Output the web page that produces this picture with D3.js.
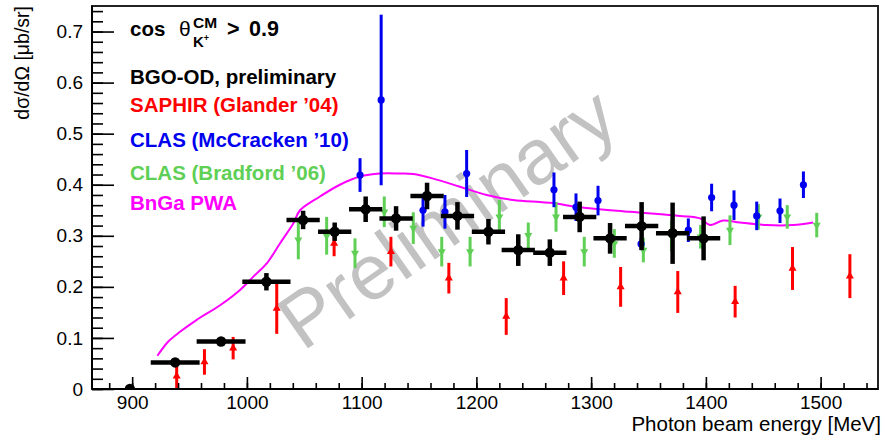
<!DOCTYPE html>
<html><head><meta charset="utf-8">
<script src="https://cdn.jsdelivr.net/npm/d3@7"></script>
<style>
html,body{margin:0;padding:0;background:#fff;}
svg{display:block;font-family:"Liberation Sans",Arial,Helvetica,sans-serif;}
</style></head>
<body>
<svg id="c" width="885" height="440"></svg>
<script>
// ---------- data ----------
const xTicks = [900, 1000, 1100, 1200, 1300, 1400, 1500];
const yTicks = [0, 0.1, 0.2, 0.3, 0.4, 0.5, 0.6, 0.7];
const yTickLabels = ["0", "0.1", "0.2", "0.3", "0.4", "0.5", "0.6", "0.7"];

// BGO-OD preliminary
const bgoE   = [898, 937.5, 977.5, 1017, 1049, 1076.5, 1103.5, 1130, 1157, 1183.5, 1210.5, 1236.5, 1264, 1290, 1316.5, 1344, 1371, 1398];
const bgoV   = [0, 0.052, 0.093, 0.210, 0.331, 0.308, 0.352, 0.334, 0.378, 0.339, 0.308, 0.272, 0.267, 0.337, 0.295, 0.319, 0.305, 0.295];
const bgoErr = [0, 0.005, 0.005, 0.017, 0.018, 0.018, 0.025, 0.024, 0.026, 0.027, 0.025, 0.031, 0.026, 0.030, 0.030, 0.047, 0.060, 0.043];
const bgoXErr= [0, 21.3, 21.3, 21, 14.5, 14.5, 14.5, 14.5, 14.5, 14.5, 14.5, 14.5, 14.5, 14.5, 14.5, 14.5, 14.5, 14.5];

// SAPHIR (Glander '04)
const sapE   = [938.8, 963, 988, 1026, 1076, 1125.5, 1176, 1226, 1276, 1325.7, 1375.5, 1425.5, 1475.5, 1525.5];
const sapV   = [0.025, 0.053, 0.080, 0.158, 0.285, 0.269, 0.217, 0.142, 0.217, 0.200, 0.190, 0.171, 0.236, 0.221];
const sapErr = [0.030, 0.025, 0.022, 0.050, 0.025, 0.029, 0.030, 0.036, 0.033, 0.039, 0.041, 0.031, 0.042, 0.043];

// CLAS (McCracken '10)
const mcE    = [1098.6, 1117, 1153.5, 1172.6, 1191.5, 1267.6, 1286.8, 1306, 1343.5, 1384.7, 1405, 1424.5, 1444.3, 1464.6, 1485];
const mcV    = [0.419, 0.566, 0.350, 0.347, 0.422, 0.390, 0.356, 0.369, 0.284, 0.311, 0.375, 0.360, 0.339, 0.349, 0.400];
const mcErr  = [0.033, 0.167, 0.032, 0.033, 0.046, 0.034, 0.027, 0.029, 0.012, 0.023, 0.027, 0.029, 0.028, 0.024, 0.026];

// CLAS (Bradford '06)
const brE    = [1044.8, 1069.5, 1094.2, 1119.7, 1145, 1169.8, 1194.5, 1220, 1245.2, 1269.4, 1294, 1320.2, 1345.5, 1370, 1395.4, 1421, 1445.7, 1470.9, 1496.6];
const brV    = [0.292, 0.300, 0.266, 0.347, 0.315, 0.269, 0.269, 0.337, 0.301, 0.337, 0.269, 0.285, 0.272, 0.300, 0.298, 0.311, 0.337, 0.337, 0.321];
const brErr  = [0.038, 0.037, 0.029, 0.030, 0.031, 0.029, 0.029, 0.033, 0.025, 0.029, 0.029, 0.028, 0.024, 0.030, 0.023, 0.029, 0.025, 0.023, 0.024];

// BnGa PWA curve
const pwaE = [922, 931.5, 941.7, 956, 976.6, 994, 1005.6, 1017.3, 1028.8, 1040.4, 1046.3, 1063.7, 1081, 1098.6, 1116, 1133.4, 1145, 1162.5, 1185.7, 1209, 1232, 1255.4, 1267, 1290, 1333.9, 1377.5, 1395, 1403.6, 1415, 1429.7, 1453, 1476, 1493.5];
const pwaV = [0.065, 0.093, 0.112, 0.135, 0.164, 0.194, 0.220, 0.246, 0.285, 0.324, 0.350, 0.377, 0.400, 0.416, 0.422, 0.422, 0.421, 0.412, 0.396, 0.380, 0.370, 0.366, 0.364, 0.356, 0.347, 0.339, 0.334, 0.321, 0.330, 0.326, 0.321, 0.321, 0.326];

// colours
const cBlack = "#000000", cRed = "#ff0000", cBlue = "#0000ee", cGreen = "#5fcf55", cMag = "#ff00ff";

// ---------- layout ----------
const L = 92, R = 878, T = 6, B = 389;
const x = d3.scaleLinear().domain([865, 1550]).range([L, R]);
const y = d3.scaleLinear().domain([0, 0.75]).range([B, T]);

const svg = d3.select("#c");

svg.append("defs").append("clipPath").attr("id", "clip")
  .append("rect").attr("x", L).attr("y", T).attr("width", R - L).attr("height", B - T);

// watermark
svg.append("text")
  .attr("transform", `translate(447,218) rotate(-35)`)
  .attr("text-anchor", "middle").attr("dominant-baseline", "central")
  .attr("font-size", 78).attr("fill", "#c2c2c2")
  .text("Preliminary");

const plot = svg.append("g").attr("clip-path", "url(#clip)");

// PWA curve
plot.append("path")
  .attr("d", d3.line().x((d, i) => x(pwaE[i])).y((d, i) => y(pwaV[i])).curve(d3.curveCatmullRom.alpha(0.5))(pwaE))
  .attr("fill", "none").attr("stroke", cMag).attr("stroke-width", 2);

function errBars(E, V, Er, col, w) {
  plot.append("g").selectAll("line").data(E).join("line")
    .attr("x1", (d) => x(d)).attr("x2", (d) => x(d))
    .attr("y1", (d, i) => y(V[i] - Er[i])).attr("y2", (d, i) => y(V[i] + Er[i]))
    .attr("stroke", col).attr("stroke-width", w);
}

// SAPHIR
errBars(sapE, sapV, sapErr, cRed, 3);
plot.append("g").selectAll("path").data(sapE).join("path")
  .attr("d", d3.symbol(d3.symbolTriangle, 28))
  .attr("transform", (d, i) => `translate(${x(d)},${y(sapV[i])})`)
  .attr("fill", cRed);

// Bradford
errBars(brE, brV, brErr, cGreen, 3);
plot.append("g").selectAll("path").data(brE).join("path")
  .attr("d", d3.symbol(d3.symbolTriangle, 28))
  .attr("transform", (d, i) => `translate(${x(d)},${y(brV[i])}) rotate(180)`)
  .attr("fill", cGreen);

// McCracken
errBars(mcE, mcV, mcErr, cBlue, 3);
plot.append("g").selectAll("circle").data(mcE).join("circle")
  .attr("cx", (d) => x(d)).attr("cy", (d, i) => y(mcV[i])).attr("r", 3.6)
  .attr("fill", cBlue);

// BGO-OD
const bg = plot.append("g");
bg.selectAll("line.v").data(bgoE).join("line").attr("class", "v")
  .attr("x1", (d) => x(d)).attr("x2", (d) => x(d))
  .attr("y1", (d, i) => y(bgoV[i] - bgoErr[i])).attr("y2", (d, i) => y(bgoV[i] + bgoErr[i]))
  .attr("stroke", cBlack).attr("stroke-width", 4.5);
bg.selectAll("line.h").data(bgoE).join("line").attr("class", "h")
  .attr("x1", (d, i) => x(d - bgoXErr[i])).attr("x2", (d, i) => x(d + bgoXErr[i]))
  .attr("y1", (d, i) => y(bgoV[i])).attr("y2", (d, i) => y(bgoV[i]))
  .attr("stroke", cBlack).attr("stroke-width", 4.5);
bg.selectAll("circle").data(bgoE).join("circle")
  .attr("cx", (d) => x(d)).attr("cy", (d, i) => y(bgoV[i])).attr("r", 5.2)
  .attr("fill", cBlack);

// ---------- axes ----------
const ax = svg.append("g");
const tickFont = 19;
// x axis
const xMinor = d3.range(880, 1550, 20);
ax.append("g").attr("transform", `translate(0,${B})`)
  .call(d3.axisBottom(x).tickValues(xMinor).tickSize(-6).tickFormat(""))
  .call(g => { g.select(".domain").remove(); g.selectAll("line").attr("stroke", "#000").attr("stroke-width", 1.6); });
ax.append("g").attr("transform", `translate(0,${B})`)
  .call(d3.axisBottom(x).tickValues(xTicks).tickSize(-12).tickPadding(6.5).tickFormat(d3.format("d")))
  .call(g => {
    g.select(".domain").remove();
    g.selectAll("line").attr("stroke", "#000").attr("stroke-width", 1.6);
    g.selectAll("text").attr("font-size", tickFont).attr("fill", "#000").attr("font-family", "Liberation Sans, Arial, sans-serif");
  });
// y axis
const yMinor = d3.range(0, 0.751, 0.02);
ax.append("g").attr("transform", `translate(${L},0)`)
  .call(d3.axisLeft(y).tickValues(yMinor).tickSize(-11).tickFormat(""))
  .call(g => { g.select(".domain").remove(); g.selectAll("line").attr("stroke", "#000").attr("stroke-width", 1.6); });
ax.append("g").attr("transform", `translate(${L},0)`)
  .call(d3.axisLeft(y).tickValues(yTicks).tickSize(-22).tickPadding(9).tickFormat((d, i) => yTickLabels[i]))
  .call(g => {
    g.select(".domain").remove();
    g.selectAll("line").attr("stroke", "#000").attr("stroke-width", 1.6);
    g.selectAll("text").attr("font-size", tickFont).attr("fill", "#000").attr("font-family", "Liberation Sans, Arial, sans-serif");
  });

// frame
svg.append("rect").attr("x", L).attr("y", T).attr("width", R - L).attr("height", B - T)
  .attr("fill", "none").attr("stroke", "#222").attr("stroke-width", 2);
svg.append("line").attr("x1", L).attr("x2", R).attr("y1", B).attr("y2", B).attr("stroke", "#000").attr("stroke-width", 2);
svg.append("line").attr("x1", L).attr("x2", L).attr("y1", T).attr("y2", B).attr("stroke", "#000").attr("stroke-width", 2);

// axis titles
svg.append("text").attr("x", 881).attr("y", 431).attr("text-anchor", "end")
  .attr("font-size", 20.5).text("Photon beam energy [MeV]");
svg.append("text").attr("transform", "translate(29,6) rotate(-90)").attr("text-anchor", "end")
  .attr("font-size", 19.5).text("dσ/dΩ [μb/sr]");

// legend title: cos θ^CM_K+ > 0.9
const lt = svg.append("text").attr("x", 130).attr("y", 36).attr("font-weight", "bold").attr("font-size", 20.5);
lt.append("tspan").text("cos");
lt.append("tspan").attr("x", 179).attr("font-weight", "normal").attr("font-size", 21).text("θ");
lt.append("tspan").attr("x", 193).attr("y", 28).attr("font-size", 15.5).text("CM");
lt.append("tspan").attr("x", 193).attr("y", 47).attr("font-size", 15).text("K");
lt.append("tspan").attr("dy", -6).attr("font-size", 9).text("+");
lt.append("tspan").attr("x", 227).attr("y", 36).attr("font-size", 21.5).text(">");
lt.append("tspan").attr("x", 249).attr("y", 36).attr("font-size", 21.5).text("0.9");

// legend entries
const legTexts = ["BGO-OD, preliminary", "SAPHIR (Glander ’04)", "CLAS (McCracken ’10)", "CLAS (Bradford ’06)", "BnGa PWA"];
const legCols  = [cBlack, cRed, cBlue, cGreen, cMag];
const legY     = [84, 112, 146.5, 180, 209.5];
svg.append("g").selectAll("text").data(legTexts).join("text")
  .attr("x", 130).attr("y", (d, i) => legY[i])
  .attr("font-weight", "bold").attr("font-size", 20.5)
  .attr("fill", (d, i) => legCols[i]).text(d => d);
</script>
</body></html>
